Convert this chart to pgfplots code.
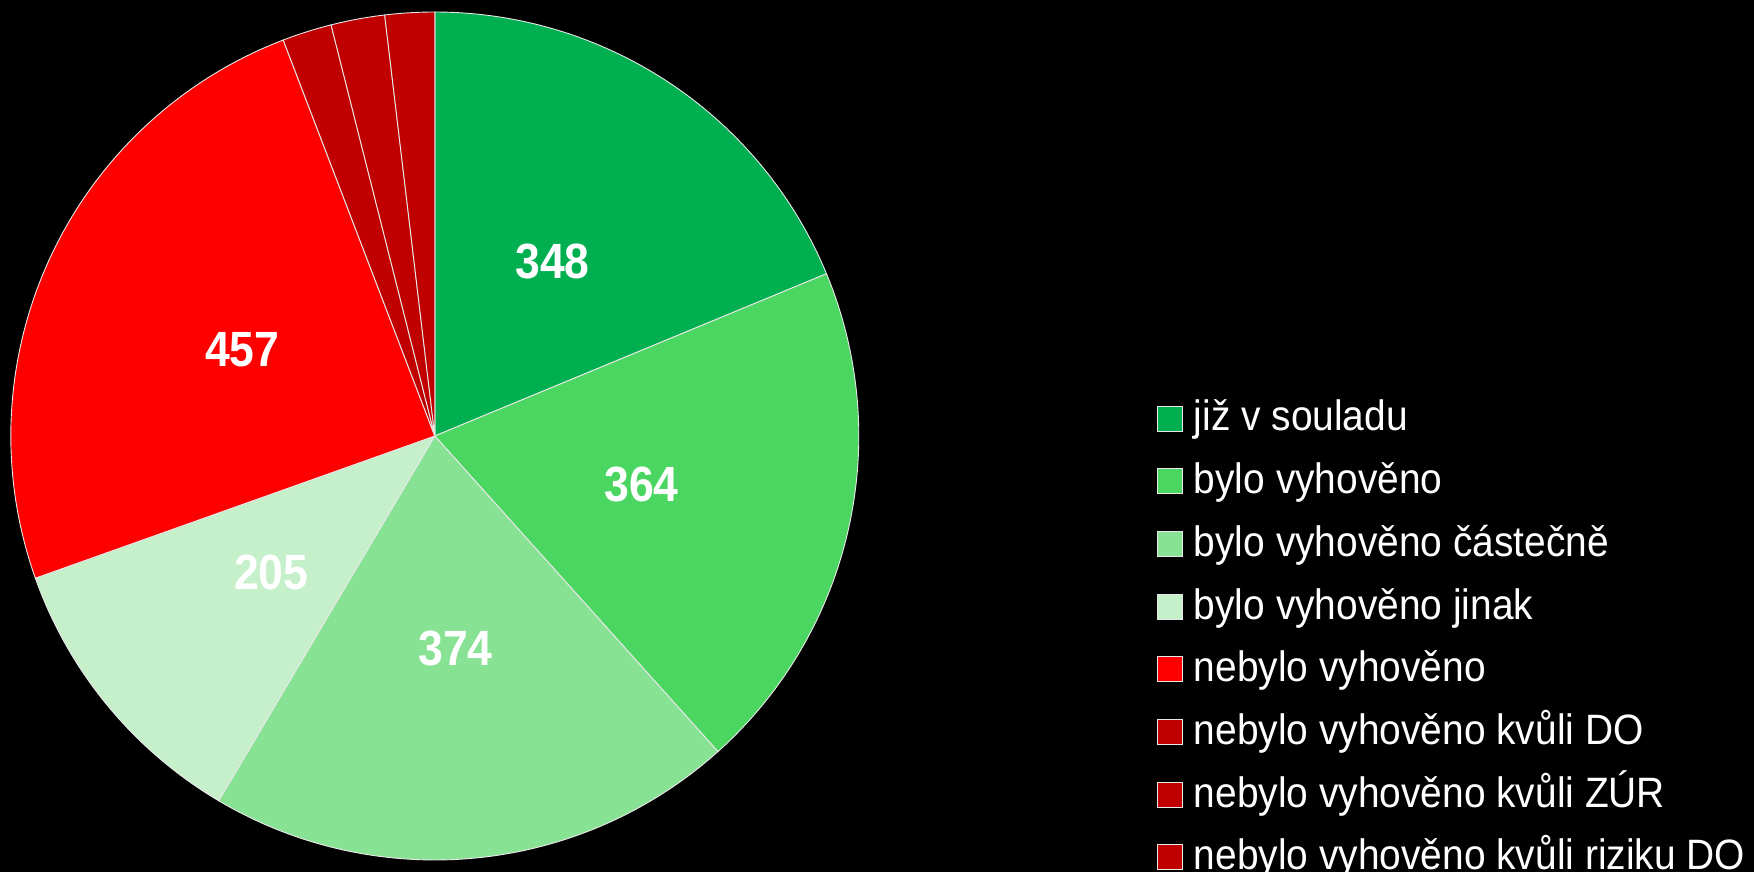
\documentclass[border=0pt]{standalone}
\usepackage{pgfplots}
\pgfplotsset{compat=1.18}
\usepackage{fontspec}
\setmainfont{Liberation Sans}[FakeStretch=0.915]
\newfontfamily\numfont{Liberation Sans}[FakeStretch=0.9]

\definecolor{cA}{HTML}{00B050}
\definecolor{cB}{HTML}{4AD660}
\definecolor{cC}{HTML}{88E294}
\definecolor{cD}{HTML}{C5F0CA}
\definecolor{cE}{HTML}{FF0000}
\definecolor{cF}{HTML}{C00000}
\definecolor{rim}{HTML}{E8E8E8}

% data (pie values)
\def\vA{348}\def\vB{364}\def\vC{374}\def\vD{205}
\def\vE{457}\def\vF{35}\def\vG{38}\def\vH{35}

% geometry (axis units = px)
\def\cx{434.8}\def\cy{436}\def\R{424}

\pgfmathsetmacro\T{\vA+\vB+\vC+\vD+\vE+\vF+\vG+\vH}
\pgfmathsetmacro\kA{0}
\pgfmathsetmacro\kB{\kA+\vA}
\pgfmathsetmacro\kC{\kB+\vB}
\pgfmathsetmacro\kD{\kC+\vC}
\pgfmathsetmacro\kE{\kD+\vD}
\pgfmathsetmacro\kF{\kE+\vE}
\pgfmathsetmacro\kG{\kF+\vF}
\pgfmathsetmacro\kH{\kG+\vG}
\pgfmathsetmacro\kI{\kH+\vH}
\pgfmathsetmacro\aA{\kA/\T*360}
\pgfmathsetmacro\aB{\kB/\T*360}
\pgfmathsetmacro\aC{\kC/\T*360}
\pgfmathsetmacro\aD{\kD/\T*360}
\pgfmathsetmacro\aE{\kE/\T*360}
\pgfmathsetmacro\aF{\kF/\T*360}
\pgfmathsetmacro\aG{\kG/\T*360}
\pgfmathsetmacro\aH{\kH/\T*360}
\pgfmathsetmacro\aI{\kI/\T*360}

\newcommand\defpos[3]{%
  \pgfmathsetmacro\tmpa{(#2+#3/2)/\T*360}%
  \pgfmathsetmacro\tmpx{\cx+0.5*\R*sin(\tmpa)}%
  \pgfmathsetmacro\tmpy{\cy+0.5*\R*cos(\tmpa)-2}%
  \expandafter\let\csname #1x\endcsname\tmpx
  \expandafter\let\csname #1y\endcsname\tmpy}
\defpos{LA}{\kA}{\vA}
\defpos{LB}{\kB}{\vB}
\defpos{LC}{\kC}{\vC}
\defpos{LD}{\kD}{\vD}
\defpos{LE}{\kE}{\vE}

\begin{document}
\begin{tikzpicture}
\begin{axis}[
  scale only axis, width=1754pt, height=872pt,
  xmin=0, xmax=1754, ymin=0, ymax=872,
  axis lines=none, clip=false,
  axis background/.style={fill=black},
  every axis plot/.append style={draw=rim, line width=0.9pt, samples=120, variable=\t},
  area legend,
  legend image code/.code={\draw[#1] (0pt,-11pt) rectangle (25pt,14pt);},
  legend cell align=left,
  legend style={at={(axis cs:1157,472)}, anchor=north west, draw=none, fill=none,
    inner sep=0pt, outer sep=0pt, text=white,
    font=\fontsize{42.5}{42.5}\selectfont,
    row sep=22.7pt,
    nodes={inner sep=0pt, text height=31pt, text depth=9pt},
    /tikz/every odd column/.append style={column sep=11pt}},
]
\addplot[fill=cA, domain=\aA:\aB] ({\cx+\R*sin(\t)},{\cy+\R*cos(\t)}) -- (axis cs:\cx,\cy) -- cycle;
\addlegendentry{již v souladu}
\addplot[fill=cB, domain=\aB:\aC] ({\cx+\R*sin(\t)},{\cy+\R*cos(\t)}) -- (axis cs:\cx,\cy) -- cycle;
\addlegendentry{bylo vyhověno}
\addplot[fill=cC, domain=\aC:\aD] ({\cx+\R*sin(\t)},{\cy+\R*cos(\t)}) -- (axis cs:\cx,\cy) -- cycle;
\addlegendentry{bylo vyhověno částečně}
\addplot[fill=cD, domain=\aD:\aE] ({\cx+\R*sin(\t)},{\cy+\R*cos(\t)}) -- (axis cs:\cx,\cy) -- cycle;
\addlegendentry{bylo vyhověno jinak}
\addplot[fill=cE, domain=\aE:\aF] ({\cx+\R*sin(\t)},{\cy+\R*cos(\t)}) -- (axis cs:\cx,\cy) -- cycle;
\addlegendentry{nebylo vyhověno}
\addplot[fill=cF, domain=\aF:\aG] ({\cx+\R*sin(\t)},{\cy+\R*cos(\t)}) -- (axis cs:\cx,\cy) -- cycle;
\addlegendentry{nebylo vyhověno kvůli DO}
\addplot[fill=cF, domain=\aG:\aH] ({\cx+\R*sin(\t)},{\cy+\R*cos(\t)}) -- (axis cs:\cx,\cy) -- cycle;
\addlegendentry{nebylo vyhověno kvůli ZÚR}
\addplot[fill=cF, domain=\aH:\aI] ({\cx+\R*sin(\t)},{\cy+\R*cos(\t)}) -- (axis cs:\cx,\cy) -- cycle;
\addlegendentry{nebylo vyhověno kvůli riziku DO}

\begin{scope}[every node/.style={text=white, inner sep=0pt, font=\numfont\bfseries\fontsize{49.5}{50}\selectfont}]
\node at (axis cs:\LAx,\LAy) {348};
\node at (axis cs:\LBx,\LBy) {364};
\node at (axis cs:\LCx,\LCy) {374};
\node at (axis cs:\LDx,\LDy) {205};
\node at (axis cs:\LEx,\LEy) {457};
\end{scope}
\end{axis}
\pgfresetboundingbox
\useasboundingbox (0,0) rectangle (1754pt,872pt);
\end{tikzpicture}
\end{document}
